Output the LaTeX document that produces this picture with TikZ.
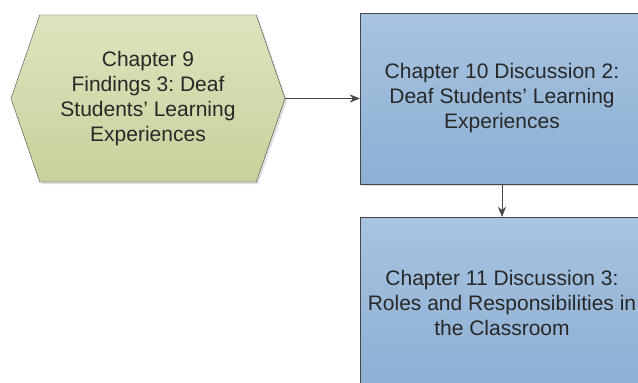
\documentclass[tikz,border=0pt]{standalone}
\usepackage{fontspec}
\setmainfont{Liberation Sans}
\usetikzlibrary{shapes.symbols, arrows.meta, shadows}
\definecolor{hexTop}{RGB}{222,228,190}
\definecolor{hexBot}{RGB}{200,208,156}
\definecolor{boxTop}{RGB}{168,196,224}
\definecolor{boxBot}{RGB}{140,175,212}
\definecolor{lineGray}{RGB}{70,70,70}
\definecolor{textGray}{RGB}{40,40,40}
\frenchspacing

\begin{document}
\begin{tikzpicture}[x=1pt, y=-1pt,
    chaptext/.style={text=textGray, align=center, font=\fontsize{21}{25}\selectfont},
    finding/.style={chaptext, shape=signal, signal to=east and west, signal pointer angle=142,
        minimum width=274pt, minimum height=167pt, inner sep=0pt, draw=lineGray, thin,
        top color=hexTop, bottom color=hexBot,
        drop shadow={opacity=0.25, shadow xshift=2pt, shadow yshift=-2pt}},
    discussion/.style={chaptext, rectangle, minimum width=284pt, minimum height=171pt, inner sep=0pt,
        draw=lineGray, thin, top color=boxTop, bottom color=boxBot,
        drop shadow={opacity=0.25, shadow xshift=2pt, shadow yshift=-2pt}},
    flow/.style={draw=lineGray, thin, -{Stealth[length=10pt, width=8pt]}}]
        \clip (0,0) rectangle (638,383);
        \draw (148,98.5)  node[finding] (ch9) {Chapter 9\\Findings 3: Deaf\\Students’ Learning\\Experiences};
        \draw (502,98.5)  node[discussion] (ch10) {Chapter 10 Discussion 2:\\Deaf Students’ Learning\\Experiences};
        \draw (502,302.5) node[discussion] (ch11) {Chapter 11 Discussion 3:\\Roles and Responsibilities in\\the Classroom};
        \draw[flow] (ch9.east) -- (ch10.west);
        \draw[flow] (ch10.south) -- (ch11.north);
    \end{tikzpicture}
\end{document}
